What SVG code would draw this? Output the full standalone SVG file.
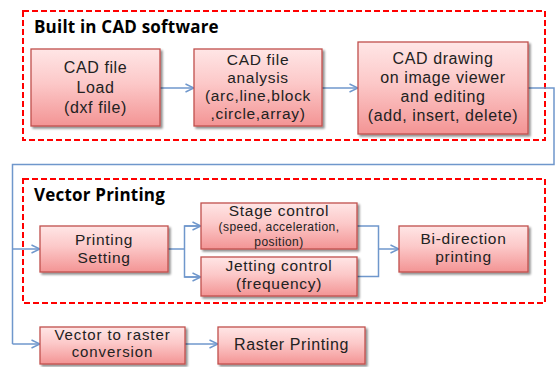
<svg xmlns="http://www.w3.org/2000/svg" width="556" height="367" viewBox="0 0 556 367">
  <defs>
    <linearGradient id="boxFill" x1="0" y1="0" x2="0" y2="1">
      <stop offset="0" stop-color="#ffe6e6"/>
      <stop offset="0.45" stop-color="#fcc8c8"/>
      <stop offset="1" stop-color="#f39494"/>
    </linearGradient>
    <filter id="shadow" x="-10%" y="-10%" width="125%" height="130%">
      <feGaussianBlur in="SourceAlpha" stdDeviation="1.2"/>
      <feOffset dx="1.5" dy="2" result="o"/>
      <feComponentTransfer><feFuncA type="linear" slope="0.45"/></feComponentTransfer>
      <feMerge><feMergeNode/><feMergeNode in="SourceGraphic"/></feMerge>
    </filter>
    <marker id="arrow" viewBox="0 0 10 10" refX="9.5" refY="5" markerWidth="10" markerHeight="10" markerUnits="userSpaceOnUse" orient="auto">
      <path d="M1,1 L9.5,5 L1,9" fill="none" stroke="#6f97cc" stroke-width="1.4"/>
    </marker>
  </defs>
  <style>
    .box { fill: url(#boxFill); stroke: #c0504d; stroke-width: 1.3; filter: url(#shadow); }
    .group { fill: none; stroke: #ff0000; stroke-width: 2; stroke-dasharray: 6 3; }
    .title { font-family: "Open Sans", "Noto Sans", sans-serif; font-weight: bold; font-size: 17px; letter-spacing: 0.2px; fill: #000; }
    .t { font-family: "Liberation Sans", Arial, sans-serif; font-size: 15.5px; letter-spacing: 0.7px; fill: #222; text-anchor: middle; }
    .m { font-size: 16px; letter-spacing: 0.6px; }
    .n { font-size: 15px; letter-spacing: 0.9px; }
    .xs { font-size: 12px; letter-spacing: 0.45px; }
    .line { fill: none; stroke: #6f97cc; stroke-width: 1.5; }
  </style>

  <!-- dashed section frames -->
  <g id="section-cad">
    <rect class="group" x="23" y="11" width="522" height="129"/>
    <text class="title" x="34" y="33">Built in CAD software</text>
  </g>
  <g id="section-vector">
    <rect class="group" x="23" y="179" width="522" height="124"/>
    <text class="title" x="34" y="201">Vector Printing</text>
  </g>

  <!-- connectors -->
  <g id="connectors">
    <line class="line" x1="160" y1="88" x2="194" y2="88" marker-end="url(#arrow)"/>
    <line class="line" x1="322" y1="88" x2="358" y2="88" marker-end="url(#arrow)"/>
    <polyline class="line" points="528,88 554,88 554,164.5 12.5,164.5 12.5,344"/>
    <line class="line" x1="12.5" y1="249" x2="40" y2="249" marker-end="url(#arrow)"/>
    <line class="line" x1="12.5" y1="344" x2="40" y2="344" marker-end="url(#arrow)"/>
    <line class="line" x1="168" y1="249" x2="184.5" y2="249"/>
    <polyline class="line" points="201,226 184.5,226 184.5,277 201,277"/>
    <line class="line" x1="184.5" y1="226" x2="201" y2="226" marker-end="url(#arrow)"/>
    <line class="line" x1="184.5" y1="277" x2="201" y2="277" marker-end="url(#arrow)"/>
    <polyline class="line" points="357,226 378.5,226 378.5,276.5 357,276.5"/>
    <line class="line" x1="378.5" y1="249" x2="399" y2="249" marker-end="url(#arrow)"/>
    <line class="line" x1="185" y1="344" x2="218" y2="344" marker-end="url(#arrow)"/>
  </g>

  <!-- nodes -->
  <g id="cad-load">
    <rect class="box" x="31" y="49" width="129" height="77"/>
    <text class="t m" x="95.5" y="73">CAD file</text>
    <text class="t m" x="95.5" y="93">Load</text>
    <text class="t m" x="95.5" y="113">(dxf file)</text>
  </g>
  <g id="cad-analysis">
    <rect class="box" x="194" y="49" width="128" height="77"/>
    <text class="t" x="258" y="65">CAD file</text>
    <text class="t" x="258" y="83">analysis</text>
    <text class="t" x="258" y="101">(arc,line,block</text>
    <text class="t" x="258" y="118.5">,circle,array)</text>
  </g>
  <g id="cad-drawing">
    <rect class="box" x="358" y="42" width="170" height="92"/>
    <text class="t m" x="443" y="64">CAD drawing</text>
    <text class="t m" x="443" y="83">on image viewer</text>
    <text class="t m" x="443" y="102">and editing</text>
    <text class="t m" x="443" y="121">(add, insert, delete)</text>
  </g>
  <g id="printing-setting">
    <rect class="box" x="40" y="226" width="128" height="46"/>
    <text class="t" x="104" y="245">Printing</text>
    <text class="t" x="104" y="263">Setting</text>
  </g>
  <g id="stage-control">
    <rect class="box" x="201" y="203" width="156" height="46"/>
    <text class="t" x="279" y="216">Stage control</text>
    <text class="t xs" x="279" y="231">(speed, acceleration,</text>
    <text class="t xs" x="279" y="245.5">position)</text>
  </g>
  <g id="jetting-control">
    <rect class="box" x="201" y="257" width="156" height="39"/>
    <text class="t" x="279" y="271">Jetting control</text>
    <text class="t" x="279" y="289">(frequency)</text>
  </g>
  <g id="bi-direction">
    <rect class="box" x="399" y="226" width="129" height="46"/>
    <text class="t" x="463.5" y="244">Bi-direction</text>
    <text class="t" x="463.5" y="262">printing</text>
  </g>
  <g id="vector-to-raster">
    <rect class="box" x="40" y="327" width="145" height="37"/>
    <text class="t n" x="112.5" y="340">Vector to raster</text>
    <text class="t n" x="112.5" y="357">conversion</text>
  </g>
  <g id="raster-printing">
    <rect class="box" x="218" y="327" width="147" height="37"/>
    <text class="t m" x="291.5" y="350">Raster Printing</text>
  </g>
</svg>
